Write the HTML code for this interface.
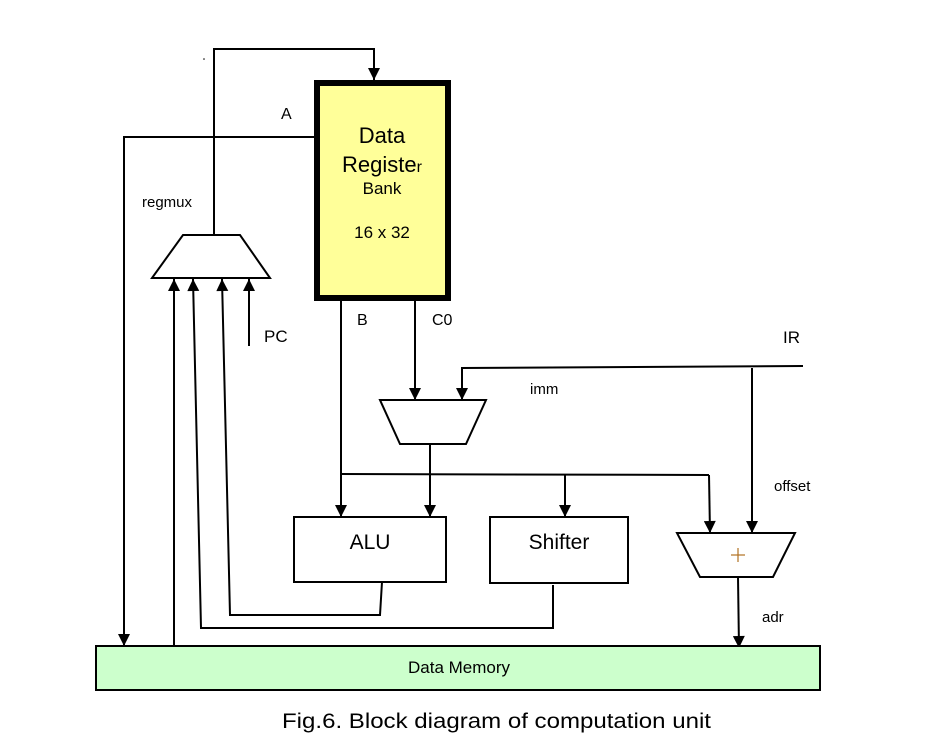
<!DOCTYPE html>
<html><head><meta charset="utf-8"><style>
html,body{margin:0;padding:0;background:#fff;}
svg{display:block;}
text{font-family:"Liberation Sans",Arial,sans-serif;fill:#000;}
</style></head><body>
<svg width="942" height="751" viewBox="0 0 942 751" xmlns="http://www.w3.org/2000/svg">
<defs>
<marker id="ahb" viewBox="0 0 10 10" refX="10" refY="5" markerWidth="14" markerHeight="12" markerUnits="userSpaceOnUse" orient="auto">
<path d="M0,0 L10,5 L0,10 z" fill="#000"/></marker>
</defs>
<g fill="none" stroke="#000" stroke-width="2">
<polyline points="214,235 214,49 374,49 374,80" marker-end="url(#ahb)"/>
<polyline points="314,137 124,137 124,646" marker-end="url(#ahb)"/>
<polygon points="183,235 240,235 270,278 152,278" fill="#fff"/>
<line x1="174" y1="646" x2="174" y2="279" marker-end="url(#ahb)"/>
<polyline points="553,585 553,628 201,628 193,279" marker-end="url(#ahb)"/>
<polyline points="382,582 380,615 230,615 222,279" marker-end="url(#ahb)"/>
<line x1="249" y1="346" x2="249" y2="279" marker-end="url(#ahb)"/>
<line x1="341" y1="301" x2="341" y2="517" marker-end="url(#ahb)"/>
<line x1="415" y1="301" x2="415" y2="400" marker-end="url(#ahb)"/>
<polyline points="803,366 462,368 462,400" marker-end="url(#ahb)"/>
<line x1="752" y1="368" x2="752" y2="533" marker-end="url(#ahb)"/>
<polygon points="380,400 486,400 466,444 400,444" fill="#fff"/>
<line x1="430" y1="444" x2="430" y2="517" marker-end="url(#ahb)"/>
<line x1="340" y1="474" x2="709" y2="475"/>
<line x1="565" y1="474" x2="565" y2="517" marker-end="url(#ahb)"/>
<line x1="709" y1="475" x2="710" y2="533" marker-end="url(#ahb)"/>
<polygon points="677,533 795,533 773,577 700,577" fill="#fff"/>
<line x1="738" y1="577" x2="739" y2="648" marker-end="url(#ahb)"/>
<rect x="294" y="517" width="152" height="65" fill="#fff"/>
<rect x="490" y="517" width="138" height="66" fill="#fff"/>
<rect x="96" y="646" width="724" height="44" fill="#ccffcc"/>
</g>
<rect x="317" y="83" width="131" height="215" fill="#ffff99" stroke="#000" stroke-width="6"/>
<g stroke="#b07020" stroke-width="1.2"><line x1="738" y1="548" x2="738" y2="562"/><line x1="731" y1="555" x2="745" y2="555"/></g>
<text x="382" y="143" font-size="22" text-anchor="middle">Data</text>
<text x="382" y="172" font-size="22" text-anchor="middle">Registe<tspan font-size="16">r</tspan></text>
<text x="382" y="194" font-size="17" text-anchor="middle">Bank</text>
<text x="382" y="238" font-size="17" text-anchor="middle">16 x 32</text>
<text x="281" y="119" font-size="16">A</text>
<text x="142" y="207" font-size="15">regmux</text>
<text x="264" y="342" font-size="17">PC</text>
<text x="357" y="325" font-size="16">B</text>
<text x="432" y="325" font-size="16">C0</text>
<text x="783" y="343" font-size="17">IR</text>
<text x="530" y="394" font-size="15">imm</text>
<text x="774" y="491" font-size="15">offset</text>
<text x="762" y="622" font-size="15">adr</text>
<text x="370" y="549" font-size="21" text-anchor="middle">ALU</text>
<text x="559" y="549" font-size="21" text-anchor="middle">Shifter</text>
<text x="459" y="673" font-size="17" text-anchor="middle">Data Memory</text>
<text x="282" y="728" font-size="21" textLength="429" lengthAdjust="spacingAndGlyphs">Fig.6. Block diagram of computation unit</text>
<circle cx="204" cy="59" r="0.8" fill="#000"/>
</svg>
</body></html>
